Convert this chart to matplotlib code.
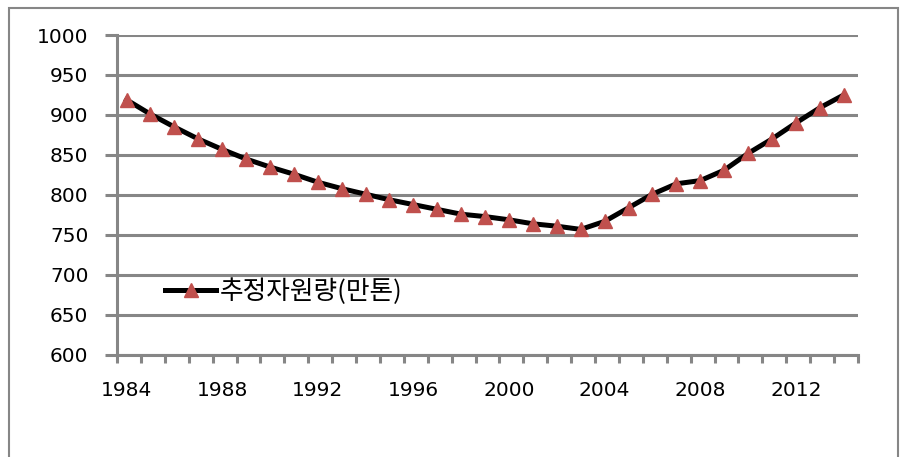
import matplotlib.pyplot as plt
from matplotlib.patches import Rectangle
from matplotlib.ticker import FixedLocator, MultipleLocator

# estimated resource by year (10k tonnes)
years = list(range(1984, 2015))
amount = [919, 901, 885, 870, 857, 845, 835, 826, 816, 808,
          801, 794, 788, 782, 776, 773, 769, 764, 761, 757,
          767, 784, 801, 814, 818, 831, 852, 870, 890, 909, 925]
series_name = '추정자원량(만톤)'

grey = '#868686'
red = '#C0504D'

fig = plt.figure(figsize=(9.04, 4.57), dpi=100)
ax = fig.add_axes([117/904, 1-355/457, 741/904, 320/457])

# outer chart border
fig.patches.append(Rectangle((9/904, -0.1), 889/904, 1.1-8/457, transform=fig.transFigure,
                             fill=False, edgecolor=grey, linewidth=1.5))

x = list(range(len(years)))
ax.plot(x, amount, color='black', linewidth=3.6, marker='^', markersize=10,
        markerfacecolor=red, markeredgecolor=red, label=series_name, zorder=3)

ax.set_xlim(-0.4, len(years) - 0.4)
ax.set_ylim(600, 1000)
ax.yaxis.set_major_locator(MultipleLocator(50))
ax.grid(axis='y', color=grey, linewidth=2.2)
ax.set_axisbelow(True)

for s in ['top', 'right']:
    ax.spines[s].set_visible(False)
for s in ['left', 'bottom']:
    ax.spines[s].set_color(grey)
    ax.spines[s].set_linewidth(2.2)

ax.tick_params(axis='y', direction='out', length=8.6, width=2.2, color=grey,
               pad=12, labelsize=14.5)
label_pos = [i for i in x if (years[i] - 1984) % 4 == 0]
ax.xaxis.set_major_locator(FixedLocator(label_pos))
ax.set_xticklabels([str(years[i]) for i in label_pos])
ax.xaxis.set_minor_locator(FixedLocator([i - 0.4 for i in range(len(years) + 1)]))
ax.tick_params(axis='x', which='major', length=0, pad=19, labelsize=14.5)
ax.tick_params(axis='x', which='minor', direction='out', length=5.5, width=2.2, color=grey)

ax.legend(loc='center left', bbox_to_anchor=(48/741, 1-257/320), frameon=False,
          borderpad=0, borderaxespad=0, handlelength=2.0, handletextpad=0.12,
          prop={'family': ['Noto Sans CJK KR', 'DejaVu Sans'], 'size': 18.5})

fig.savefig('out.png', dpi=100)
